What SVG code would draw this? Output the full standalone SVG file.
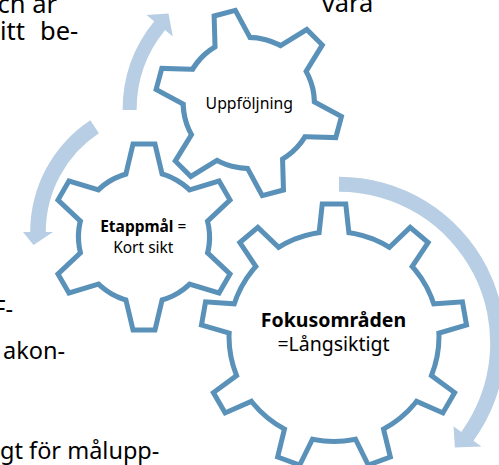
<svg xmlns="http://www.w3.org/2000/svg" width="499" height="465" viewBox="0 0 499 465">
<style>
.edge{fill:#5a91b9;stroke:#5a91b9;stroke-width:10;stroke-linejoin:miter}
.face{fill:#fff;stroke:none}
.arrow{fill:#b8cee4}
.lbl{font-family:"Noto Sans","Open Sans",sans-serif;fill:#000;text-anchor:middle}
.doc{font-family:"Noto Sans","Open Sans",sans-serif;font-size:23.5px;fill:#000}
.doc-top{font-size:25.5px}
</style>
<defs>
<path id="toothS" d="M55,-17.4 L90.5,-9 L90.5,9 L55,17.4 Z"/>
<path id="toothL" d="M94.5,-13.4 L130,-9.5 L130,9.5 L94.5,13.4 Z"/>
<g id="gearS">
<circle r="63"/>
<use href="#toothS"/>
<use href="#toothS" transform="rotate(60)"/>
<use href="#toothS" transform="rotate(120)"/>
<use href="#toothS" transform="rotate(180)"/>
<use href="#toothS" transform="rotate(240)"/>
<use href="#toothS" transform="rotate(300)"/>
</g>
<g id="gearL">
<circle r="102.5"/>
<use href="#toothL"/>
<use href="#toothL" transform="rotate(40)"/>
<use href="#toothL" transform="rotate(80)"/>
<use href="#toothL" transform="rotate(120)"/>
<use href="#toothL" transform="rotate(160)"/>
<use href="#toothL" transform="rotate(200)"/>
<use href="#toothL" transform="rotate(240)"/>
<use href="#toothL" transform="rotate(280)"/>
<use href="#toothL" transform="rotate(320)"/>
</g>
</defs>
<g id="doc-text" class="doc">
<text class="doc-top" x="57" y="13" text-anchor="end">ch är</text>
<text class="doc-top" y="40"><tspan x="0">itt</tspan><tspan x="78.3" text-anchor="end">be-</tspan></text>
<text class="doc-top" x="321.7" y="12">vara</text>
<text x="13" y="317" text-anchor="end">F-</text>
<text x="65" y="359" text-anchor="end">akon-</text>
<text x="0" y="459">gt för målupp-</text>
</g>
<g id="connectors">
<path class="arrow" d="M122.6,110 A140.4,140.4 0 0 1 154.2,21.3 L146.5,14.9 L168.5,13.5 L172.8,36.4 L165.1,30.1 A126.4,126.4 0 0 0 136.6,110 Z"/>
<path class="arrow" d="M90.3,120.3 A133.8,133.8 0 0 0 30.2,232 L23,232 L33.5,245 L53,232 L45.8,232 A118.2,118.2 0 0 1 98.9,133.3 Z"/>
<path class="arrow" d="M339,176.8 A166.2,166.2 0 0 1 473.5,440.7 L481.4,446.5 L454.9,447.4 L453.5,426.2 L461.3,431.9 A151.2,151.2 0 0 0 339,191.8 Z"/>
</g>
<g id="gear-uppfoljning">
<use href="#gearS" class="edge" transform="translate(248.8,103) rotate(15)"/>
<use href="#gearS" class="face" transform="translate(248.8,103) rotate(15)"/>
<text class="lbl" x="249.3" y="108.5" font-size="15.8">Uppföljning</text>
</g>
<g id="gear-etappmal">
<use href="#gearS" class="edge" transform="translate(144,237) rotate(30)"/>
<use href="#gearS" class="face" transform="translate(144,237) rotate(30)"/>
<text class="lbl" x="143.3" y="231.7" font-size="15.5"><tspan font-weight="bold">Etappmål</tspan> =</text>
<text class="lbl" x="143.3" y="253.3" font-size="15.5">Kort sikt</text>
</g>
<g id="gear-fokus">
<use href="#gearL" class="edge" transform="translate(334,336.5) rotate(-90)"/>
<use href="#gearL" class="face" transform="translate(334,336.5) rotate(-90)"/>
<text class="lbl" x="333.5" y="326.7" font-size="19.5" font-weight="bold">Fokusområden</text>
<text class="lbl" x="333.5" y="351" font-size="19.5">=Långsiktigt</text>
</g>
</svg>
